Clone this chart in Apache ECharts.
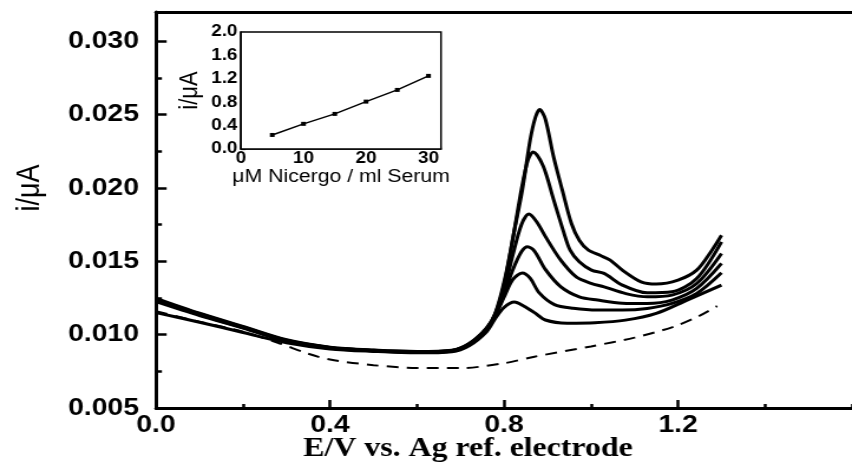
<!DOCTYPE html>
<html>
<head>
<meta charset="utf-8">
<script src="https://cdn.jsdelivr.net/npm/echarts@6/dist/echarts.min.js"></script>
<style>
html,body{margin:0;padding:0;background:#fff;overflow:hidden;width:852px;height:463px;}
#chart{position:absolute;left:0;top:0;height:463px;transform-origin:0 0;}
</style>
</head>
<body>
<div id="chart"></div>
<script>
// ---- data (E / V, i / uA) ----
const curve1 = [[0,0.01150],[0.1,0.01085],[0.2,0.01015],[0.3,0.00945],[0.4,0.00903],[0.5,0.00886],[0.6,0.00876],[0.68,0.00884],[0.72,0.00925],[0.76,0.01020],[0.78,0.01110],[0.80,0.01185],[0.824,0.01222],[0.845,0.01195],[0.87,0.01150],[0.895,0.01100],[0.945,0.01078],[1.009,0.01081],[1.079,0.01099],[1.15,0.01145],[1.221,0.01236],[1.30,0.01338]];
const curve2 = [[0,0.01225],[0.1,0.01130],[0.2,0.01045],[0.3,0.00955],[0.4,0.00907],[0.5,0.00889],[0.6,0.00878],[0.68,0.00887],[0.72,0.00930],[0.76,0.01030],[0.78,0.01130],[0.80,0.01255],[0.82,0.01375],[0.842,0.01420],[0.86,0.01385],[0.881,0.01285],[0.916,0.01205],[0.959,0.01180],[1.015,0.01168],[1.072,0.01168],[1.129,0.01179],[1.186,0.01213],[1.243,0.01281],[1.30,0.01422]];
const curve3 = [[0,0.01232],[0.1,0.01135],[0.2,0.01048],[0.3,0.00958],[0.4,0.00909],[0.5,0.00890],[0.6,0.00880],[0.68,0.00889],[0.72,0.00933],[0.76,0.01035],[0.78,0.01135],[0.80,0.01270],[0.82,0.01440],[0.84,0.01565],[0.854,0.01600],[0.87,0.01570],[0.895,0.01445],[0.93,0.01328],[0.973,0.01258],[1.015,0.01236],[1.072,0.01215],[1.129,0.01213],[1.186,0.01236],[1.243,0.01315],[1.30,0.01486]];
const curve4 = [[0,0.01238],[0.1,0.01140],[0.2,0.01050],[0.3,0.00960],[0.4,0.00911],[0.5,0.00892],[0.6,0.00882],[0.68,0.00891],[0.72,0.00936],[0.76,0.01040],[0.78,0.01140],[0.80,0.01300],[0.82,0.01540],[0.84,0.01750],[0.857,0.01822],[0.875,0.01770],[0.895,0.01670],[0.93,0.01510],[0.966,0.01394],[1.0,0.01350],[1.03,0.01326],[1.08,0.01280],[1.13,0.01258],[1.186,0.01270],[1.243,0.01349],[1.30,0.01554]];
const curve5 = [[0,0.01243],[0.1,0.01143],[0.2,0.01053],[0.3,0.00962],[0.4,0.00913],[0.5,0.00893],[0.6,0.00883],[0.68,0.00892],[0.72,0.00938],[0.76,0.01043],[0.78,0.01143],[0.80,0.01340],[0.82,0.01650],[0.84,0.01990],[0.855,0.02190],[0.867,0.02246],[0.89,0.02150],[0.914,0.01920],[0.935,0.01720],[0.952,0.01576],[0.973,0.01497],[1.001,0.01440],[1.03,0.01418],[1.072,0.01338],[1.129,0.01285],[1.186,0.01292],[1.243,0.01383],[1.30,0.01633]];
const curve6 = [[0,0.01248],[0.1,0.01146],[0.2,0.01056],[0.3,0.00965],[0.4,0.00915],[0.5,0.00895],[0.6,0.00885],[0.68,0.00894],[0.72,0.00940],[0.76,0.01046],[0.78,0.01146],[0.803,0.01394],[0.824,0.01713],[0.842,0.01985],[0.86,0.02326],[0.872,0.02480],[0.882,0.02535],[0.895,0.02470],[0.914,0.02212],[0.934,0.01985],[0.955,0.01758],[0.973,0.01644],[0.994,0.01576],[1.023,0.01538],[1.044,0.01508],[1.072,0.01440],[1.115,0.01360],[1.15,0.01345],[1.2,0.01372],[1.243,0.01440],[1.278,0.01576],[1.30,0.01678]];
const blank = [[0,0.01160],[0.1,0.01088],[0.2,0.01020],[0.28,0.00945],[0.35,0.00870],[0.4,0.00830],[0.5,0.00792],[0.6,0.00773],[0.7,0.00772],[0.8,0.00805],[0.87,0.00850],[1.0,0.00920],[1.1,0.00980],[1.19,0.01054],[1.25,0.01130],[1.29,0.01195]];

const insetConc = [5, 10, 15, 20, 25, 30];
const insetCurrent = [0.24, 0.43, 0.60, 0.81, 1.01, 1.25];

const xTicksMain = [0.0, 0.4, 0.8, 1.2];
const yTicksMain = [0.005, 0.010, 0.015, 0.020, 0.025, 0.030];

// ---- layout (reference glyphs are stretched horizontally) ----
const S = 1.18;
const W = 852 / S;
const el = document.getElementById('chart');
el.style.width = W + 'px';
el.style.transform = 'scaleX(' + S + ')';
const px = v => v / S;

const chart = echarts.init(el, null, {renderer: 'canvas', width: W, height: 463});
const SANS = '"Liberation Sans", Arial, sans-serif';
const SERIF = '"Liberation Serif", "Times New Roman", serif';

const mainSolid = [curve1, curve2, curve3, curve4, curve5, curve6].map(d => ({
  type: 'line', xAxisIndex: 0, yAxisIndex: 0, data: d, showSymbol: false, smooth: 0.3,
  lineStyle: {color: '#000', width: 3}, itemStyle: {color: '#000'}, z: 3, silent: true
}));

const option = {
  animation: false,
  backgroundColor: '#fff',
  grid: [
    {left: px(156), top: 12, width: px(1.6 * 470), height: 396},
    {left: px(241), top: 32, width: px(200), height: 117, show: true, borderColor: '#000', borderWidth: 1.5, backgroundColor: '#fff', z: 5}
  ],
  xAxis: [
    {type: 'value', gridIndex: 0, min: 0, max: 1.6, interval: 0.4, position: 'bottom',
     axisLine: {lineStyle: {color: '#000', width: 3}},
     axisTick: {inside: true, length: 8, lineStyle: {color: '#000', width: 2.5}},
     axisLabel: {color: '#000', fontFamily: SANS, fontWeight: 'bold', fontSize: 24, margin: 5, showMaxLabel: false,
       formatter: v => xTicksMain.some(t => Math.abs(t - v) < 1e-9) ? v.toFixed(1) : ''},
     splitLine: {show: false}},
    {type: 'value', gridIndex: 0, min: 0, max: 1.6, interval: 0.2, position: 'bottom',
     axisLine: {show: false}, axisLabel: {show: false}, splitLine: {show: false},
     axisTick: {inside: true, length: 4, lineStyle: {color: '#000', width: 2.5}}},
    {type: 'value', gridIndex: 0, min: 0, max: 1.6, position: 'top',
     axisLine: {lineStyle: {color: '#000', width: 3}}, axisTick: {show: false}, axisLabel: {show: false}, splitLine: {show: false}},
    {type: 'value', gridIndex: 1, min: 0, max: 32, interval: 10, position: 'bottom',
     axisLine: {lineStyle: {color: '#000', width: 1.5}},
     axisTick: {inside: true, length: 4, lineStyle: {color: '#000', width: 1.2}},
     axisLabel: {color: '#000', fontFamily: SANS, fontWeight: 'bold', fontSize: 16, margin: 2, showMaxLabel: false},
     splitLine: {show: false},
     name: 'μM Nicergo / ml Serum', nameLocation: 'middle', nameGap: 18,
     nameTextStyle: {color: '#000', fontFamily: SANS, fontSize: 18}},
    {type: 'value', gridIndex: 1, min: 0, max: 32, interval: 5, position: 'bottom',
     axisLine: {show: false}, axisLabel: {show: false}, splitLine: {show: false},
     axisTick: {inside: true, length: 2.5, lineStyle: {color: '#000', width: 1.2}}}
  ],
  yAxis: [
    {type: 'value', gridIndex: 0, min: 0.005, max: 0.032, interval: 0.005, position: 'left',
     axisLine: {lineStyle: {color: '#000', width: 3}},
     axisTick: {inside: true, length: 9, lineStyle: {color: '#000', width: 2.5}},
     axisLabel: {color: '#000', fontFamily: SANS, fontWeight: 'bold', fontSize: 24, margin: px(17), showMaxLabel: false,
       formatter: v => yTicksMain.some(t => Math.abs(t - v) < 1e-9) ? v.toFixed(3) : ''},
     splitLine: {show: false}},
    {type: 'value', gridIndex: 0, min: 0.005, max: 0.032, interval: 0.0025, position: 'left',
     axisLine: {show: false}, axisLabel: {show: false}, splitLine: {show: false},
     axisTick: {inside: true, length: 5, lineStyle: {color: '#000', width: 2.5}}},
    {type: 'value', gridIndex: 1, min: 0, max: 2.0, interval: 0.4, position: 'left',
     axisLine: {lineStyle: {color: '#000', width: 1.5}},
     axisTick: {inside: true, length: 4, lineStyle: {color: '#000', width: 1.2}},
     axisLabel: {color: '#000', fontFamily: SANS, fontWeight: 'bold', fontSize: 16, margin: 3, formatter: v => v.toFixed(1)},
     splitLine: {show: false},
     name: 'i/μA', nameLocation: 'middle', nameGap: 32,
     nameTextStyle: {color: '#000', fontFamily: SANS, fontSize: 22}}
  ],
  series: [
    {type: 'line', xAxisIndex: 0, yAxisIndex: 0, data: blank, showSymbol: false, smooth: 0.3,
     lineStyle: {color: '#000', width: 2, type: [10, 7]}, itemStyle: {color: '#000'}, z: 2, silent: true},
    ...mainSolid,
    {type: 'line', xAxisIndex: 3, yAxisIndex: 2, data: insetConc.map((c, i) => [c, insetCurrent[i]]),
     symbol: 'rect', symbolSize: 4, showSymbol: true,
     lineStyle: {color: '#000', width: 1.5}, itemStyle: {color: '#000'}, z: 6, silent: true}
  ],
  graphic: [
    {type: 'text', x: px(30), y: 188, rotation: Math.PI / 2, z: 10,
     style: {text: 'i/μA', font: '27px ' + SANS, fill: '#000', textAlign: 'center', textVerticalAlign: 'middle'}},
    {type: 'text', x: px(468), y: 449, z: 10,
     style: {text: 'E/V vs. Ag ref. electrode', font: 'bold 27px ' + SERIF, fill: '#000', textAlign: 'center', textVerticalAlign: 'middle'}}
  ]
};
chart.setOption(option);
</script>
</body>
</html>
